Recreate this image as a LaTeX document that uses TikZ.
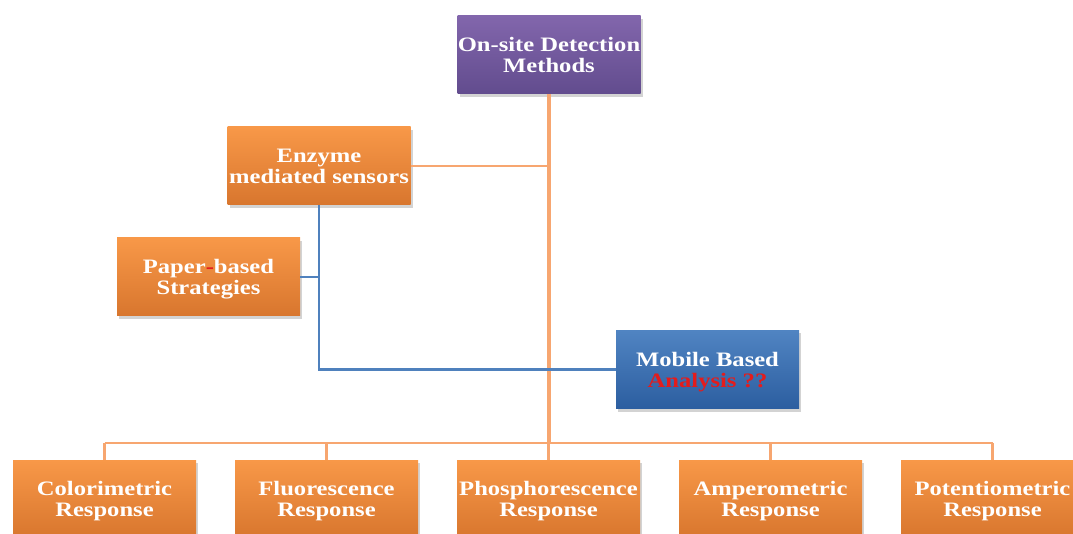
\documentclass[tikz,border=0pt]{standalone}
\usepackage{fontspec}
\setmainfont{Liberation Serif}
\usetikzlibrary{shadows}
\definecolor{purT}{RGB}{130,102,172}
\definecolor{purB}{RGB}{98,76,142}
\definecolor{orT}{RGB}{248,152,72}
\definecolor{orB}{RGB}{216,118,46}
\definecolor{blT}{RGB}{80,132,194}
\definecolor{blB}{RGB}{44,94,160}
\definecolor{oline}{RGB}{247,166,112}
\definecolor{bline}{RGB}{79,129,189}
\definecolor{qred}{RGB}{228,28,28}
\newcommand{\bxt}[1]{\raisebox{-3pt}[\height][\depth]{\scalebox{1.2}[1]{\begin{tabular}{@{}c@{}}#1\end{tabular}}}}
\tikzset{
  boxbase/.style={minimum width=183pt, minimum height=78pt, inner sep=0pt,
    font=\fontsize{20.5}{21}\selectfont\bfseries, text=white,
    drop shadow={opacity=0.35, shadow xshift=2pt, shadow yshift=-3pt}},
  purbox/.style={boxbase, top color=purT, bottom color=purB},
  orbox/.style={boxbase, top color=orT, bottom color=orB},
  blbox/.style={boxbase, top color=blT, bottom color=blB},
  oconn/.style={draw=oline, line width=3.4pt},
  oconnthin/.style={draw=oline, line width=2.8pt},
  bconn/.style={draw=bline, line width=2.4pt},
}
\begin{document}
\begin{tikzpicture}[x=1pt,y=-1pt]
\useasboundingbox (0,0) rectangle (1073,534);
\coordinate (bus) at (549,443);
\node[purbox] (top) at (549,55) {\bxt{On-site Detection\\Methods}};
\node[orbox] (enz) at (319,166) {\bxt{Enzyme\\mediated sensors}};
\node[orbox] (paper) at (208.5,277) {\bxt{Paper{\color{qred}-}based\\Strategies}};
\node[blbox] (mob) at (707.5,369.5) {\bxt{Mobile Based\\{\color{qred}Analysis ??}}};
\node[orbox] (b1) at (104.5,499) {\bxt{Colorimetric\\Response}};
\node[orbox] (b2) at (326.5,499) {\bxt{Fluorescence\\Response}};
\node[orbox] (b3) at (548.5,499) {\bxt{Phosphorescence\\Response}};
\node[orbox] (b4) at (770.5,499) {\bxt{Amperometric\\Response}};
\node[orbox] (b5) at (992.5,499) {\bxt{Potentiometric\\Response}};
\draw[oconn] (top.south) -- (bus);
\draw[oconnthin] (enz.east) -- (enz.east -| top.south);
\draw[oconnthin] (b1.north |- bus) -- (b5.north |- bus);
\foreach \b in {b1,b2,b3,b4,b5}{
  \draw[oconnthin] (\b.north) -- (\b.north |- bus);
}
\draw[bconn] (enz.south) |- (mob.west);
\draw[bconn] (paper.east) -- (paper.east -| enz.south);
\end{tikzpicture}
\end{document}
